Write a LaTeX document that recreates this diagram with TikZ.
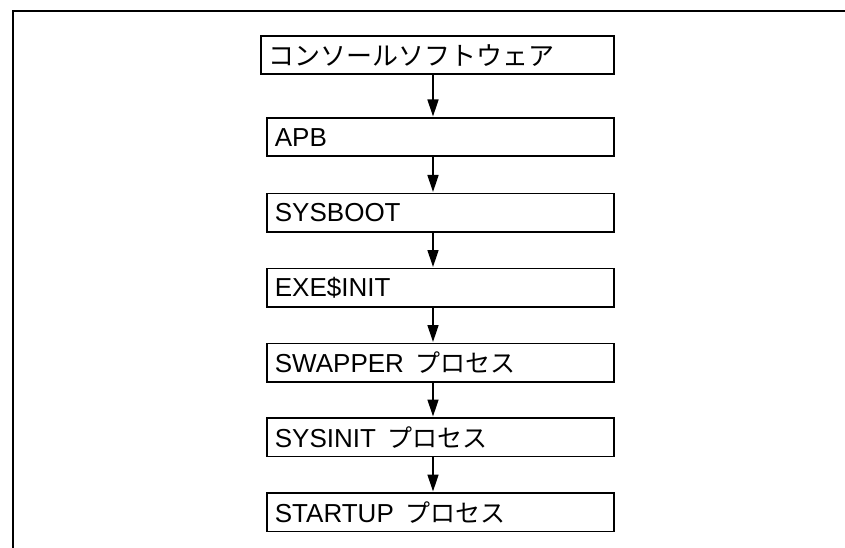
\documentclass[tikz,border=0pt]{standalone}
\usepackage{fontspec}
\setmainfont{Liberation Sans}
\newfontfamily\jp{Noto Sans CJK JP}
\usetikzlibrary{arrows.meta}
\tikzset{
  stepbox/.style={draw=black, line width=1.8pt, anchor=north west, inner xsep=8pt, inner ysep=0pt,
    minimum height=38.5pt, text width=#1, align=left, font=\fontsize{26}{30}\selectfont},
  flow/.style={line width=1.4pt, -{Triangle[length=17pt,width=11pt]}, shorten >=0.5pt},
  frame/.style={line width=2pt}
}
\newcommand{\kp}[2][25]{{\jp\fontsize{#1}{30}\selectfont #2}}
\begin{document}
\begin{tikzpicture}[x=1pt,y=-1pt]
\useasboundingbox (0,0) rectangle (845,548);
\draw[frame] (13,548) -- (13,11.5) -- (845,11.5);
\node[stepbox=337pt] (b1) at (260,35) {\kp[26]{コンソールソフトウェア}};
\node[stepbox=331pt] (b2) at (266,117) {APB};
\node[stepbox=331pt] (b3) at (266,192.5) {SYSBOOT};
\node[stepbox=331pt] (b4) at (266,267.5) {EXE\$INIT};
\node[stepbox=331pt] (b5) at (266,342.5) {SWAPPER\hspace{3pt} \kp{プロセス}};
\node[stepbox=331pt] (b6) at (266,417) {SYSINIT\hspace{3pt} \kp{プロセス}};
\node[stepbox=331pt] (b7) at (266,492) {STARTUP\hspace{3pt} \kp{プロセス}};
\coordinate (ax) at (433,0);
\draw[flow] (b1.south -| ax) -- (b2.north -| ax);
\draw[flow] (b2.south -| ax) -- (b3.north -| ax);
\draw[flow] (b3.south -| ax) -- (b4.north -| ax);
\draw[flow] (b4.south -| ax) -- (b5.north -| ax);
\draw[flow] (b5.south -| ax) -- (b6.north -| ax);
\draw[flow] (b6.south -| ax) -- (b7.north -| ax);
\end{tikzpicture}
\end{document}
